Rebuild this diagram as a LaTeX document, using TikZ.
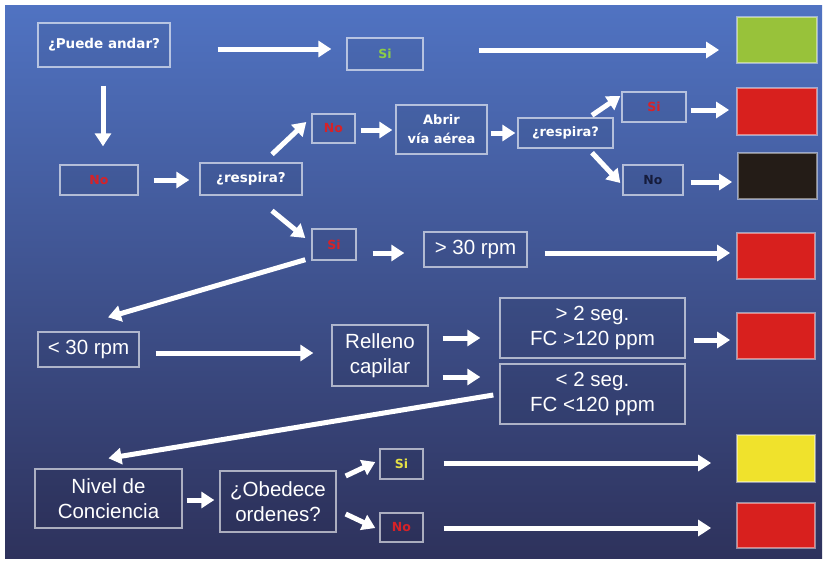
\documentclass[tikz,border=0pt]{standalone}
\usepackage{fontspec}
\setmainfont{Liberation Sans}
\newfontfamily\comic{DejaVu Sans}
\usetikzlibrary{arrows.meta,calc}
\definecolor{bgtop}{RGB}{80,115,194}
\definecolor{bgmid}{RGB}{56,84,162}
\definecolor{bgbot}{RGB}{46,50,92}
\definecolor{tred}{RGB}{214,34,40}
\definecolor{tgreen}{RGB}{140,205,70}
\definecolor{tyellow}{RGB}{228,224,70}
\definecolor{tdark}{RGB}{22,28,60}
\definecolor{cgreen}{RGB}{152,194,58}
\definecolor{cred}{RGB}{216,32,30}
\definecolor{cblack}{RGB}{36,28,23}
\definecolor{cyellow}{RGB}{240,226,44}
\tikzset{
  box/.style={draw=white, draw opacity=0.6, line width=1.4pt, fill=black, fill opacity=0.06,
    text opacity=1, text=white, inner sep=0pt, align=center},
  cbox/.style={draw=white, draw opacity=0.45, line width=1.8pt, inner sep=0pt},
  ctxt/.style={font=\comic\bfseries\fontsize{13.5}{19}\selectfont},
  stxt/.style={font=\comic\bfseries\fontsize{12.5}{14}\selectfont},
  atxt/.style={font=\fontsize{20.5}{25}\selectfont},
  arr/.style={draw=white, line width=5pt, -{Triangle[length=13pt,width=16pt]}},
  sz/.style 2 args={minimum width=#1pt, minimum height=#2pt}
}
\begin{document}
\begin{tikzpicture}[x=1pt,y=-1pt]
\useasboundingbox (0,0) rectangle (828,563);
\fill[white] (0,0) rectangle (828,563);
\shade[top color=bgtop, middle color=bgmid, bottom color=bgbot] (5,5) rectangle (822,558);

% nodes
\node[box, ctxt, sz={132}{44}] (pa) at (104,45) {¿Puede andar?};
\node[box, stxt, sz={76}{32}, text=tgreen] (si1) at (385,54) {Si};
\node[cbox, fill=cgreen, sz={80}{46}] (g1) at (777,40) {};
\node[box, stxt, sz={78}{30}, text=tred] (no1) at (99,180) {No};
\node[box, ctxt, sz={102}{32}] (re1) at (251,179) {¿respira?};
\node[box, stxt, sz={43}{29}, text=tred] (no2) at (333.5,128.5) {No};
\node[box, ctxt, sz={91}{49}, font=\comic\bfseries\fontsize{13}{19}\selectfont] (ab) at (441.5,129.5) {Abrir\\vía aérea};
\node[box, ctxt, sz={95}{30}, font=\comic\bfseries\fontsize{13}{15}\selectfont] (re2) at (565.5,133) {¿respira?};
\node[box, stxt, sz={64}{30}, text=tred] (si2) at (654,107) {Si};
\node[box, stxt, sz={60}{30}, text=tdark] (no3) at (653,180) {No};
\node[cbox, fill=cred, sz={80}{47}] (r1) at (777,111.5) {};
\node[cbox, fill=cblack, sz={79}{46}] (k1) at (777.5,176) {};
\node[box, stxt, sz={44}{31}, text=tred] (si3) at (334,244.5) {Si};
\node[box, atxt, sz={103}{35}] (gt30) at (475.5,249.5) {> 30 rpm};
\node[cbox, fill=cred, sz={78}{46}] (r2) at (776,256) {};
\node[box, atxt, sz={101}{35}] (lt30) at (88.5,349.5) {< 30 rpm};
\node[box, atxt, sz={96}{61}] (rc) at (380,355.5) {Relleno\\capilar};
\node[box, atxt, sz={185}{60}] (gt2) at (592.5,328) {> 2 seg.\\FC >120 ppm};
\node[box, atxt, sz={185}{60}] (lt2) at (592.5,394) {< 2 seg.\\FC <120 ppm};
\node[cbox, fill=cred, sz={78}{46}] (r3) at (776,336) {};
\node[box, atxt, sz={147}{59}] (nc) at (108.5,498.5) {Nivel de\\Conciencia};
\node[box, atxt, sz={116}{61}] (ob) at (278,501.5) {¿Obedece\\ordenes?};
\node[box, stxt, sz={43}{30}, text=tyellow] (si4) at (401.5,464) {Si};
\node[box, stxt, sz={43}{29}, text=tred] (no4) at (401.5,527.5) {No};
\node[cbox, fill=cyellow, sz={78}{47}] (y1) at (776,458.5) {};
\node[cbox, fill=cred, sz={78}{45}] (r4) at (776,525.5) {};

% connectors
\draw[arr] ($(pa.east)+(47,4)$) -- ($(si1.west)+(-15,-5)$);
\draw[arr] ($(si1.east)+(55,-4)$) -- ($(g1.west)+(-17,10)$);
\draw[arr] ($(pa.south)+(-1,18)$) -- ($(no1.north)+(4,-18)$);
\draw[arr] ($(no1.east)+(15,0)$) -- ($(re1.west)+(-10,1)$);
\draw[arr] ($(re1.north)+(21,-8)$) -- ($(no2.west)+(-5,-6.5)$);
\draw[arr] ($(no2.east)+(5,1.5)$) -- ($(ab.west)+(-3,0.5)$);
\draw[arr] ($(ab.east)+(3,3.5)$) -- ($(re2.west)+(-2,0)$);
\draw[arr] ($(re2.north)+(26.5,-2)$) -- ($(si2.west)+(-1,-11)$);
\draw[arr] ($(re2.south)+(26.5,4)$) -- ($(no3.west)+(-2,3)$);
\draw[arr] ($(si2.east)+(4,3)$) -- ($(r1.west)+(-7,-1.5)$);
\draw[arr] ($(no3.east)+(7,2)$) -- ($(k1.west)+(-5,6)$);
\draw[arr] ($(re1.south)+(21,15)$) -- ($(si3.west)+(-6,-6.5)$);
\draw[arr] ($(si3.east)+(16,8.5)$) -- ($(gt30.west)+(-19,3.5)$);
\draw[arr] ($(gt30.east)+(17,3.5)$) -- ($(r2.west)+(-6,-3)$);
\draw[arr] ($(si3.south west)+(-6,-1)$) -- ($(lt30.north)+(19.5,-14)$);
\draw[arr] ($(lt30.east)+(16,3.5)$) -- ($(rc.west)+(-18,-2.5)$);
\draw[arr] ($(rc.east)+(14,-17.5)$) -- ($(gt2.west)+(-19,10)$);
\draw[arr] ($(rc.east)+(14,21.5)$) -- ($(lt2.west)+(-19,-17)$);
\draw[arr] ($(gt2.east)+(8,12)$) -- ($(r3.west)+(-6,4)$);
\draw[arr] ($(lt2.west)+(-6,1)$) -- ($(nc.north)+(0,-10)$);
\draw[arr] ($(nc.east)+(4,1.5)$) -- ($(ob.west)+(-5,-1.5)$);
\draw[arr] ($(ob.east)+(9,-25.5)$) -- ($(si4.west)+(-4,-2)$);
\draw[arr] ($(ob.east)+(9,12.5)$) -- ($(no4.west)+(-4,0.5)$);
\draw[arr] ($(si4.east)+(20,-1)$) -- ($(y1.west)+(-25,4.5)$);
\draw[arr] ($(no4.east)+(20,0.5)$) -- ($(r4.west)+(-25,2.5)$);
\end{tikzpicture}
\end{document}
